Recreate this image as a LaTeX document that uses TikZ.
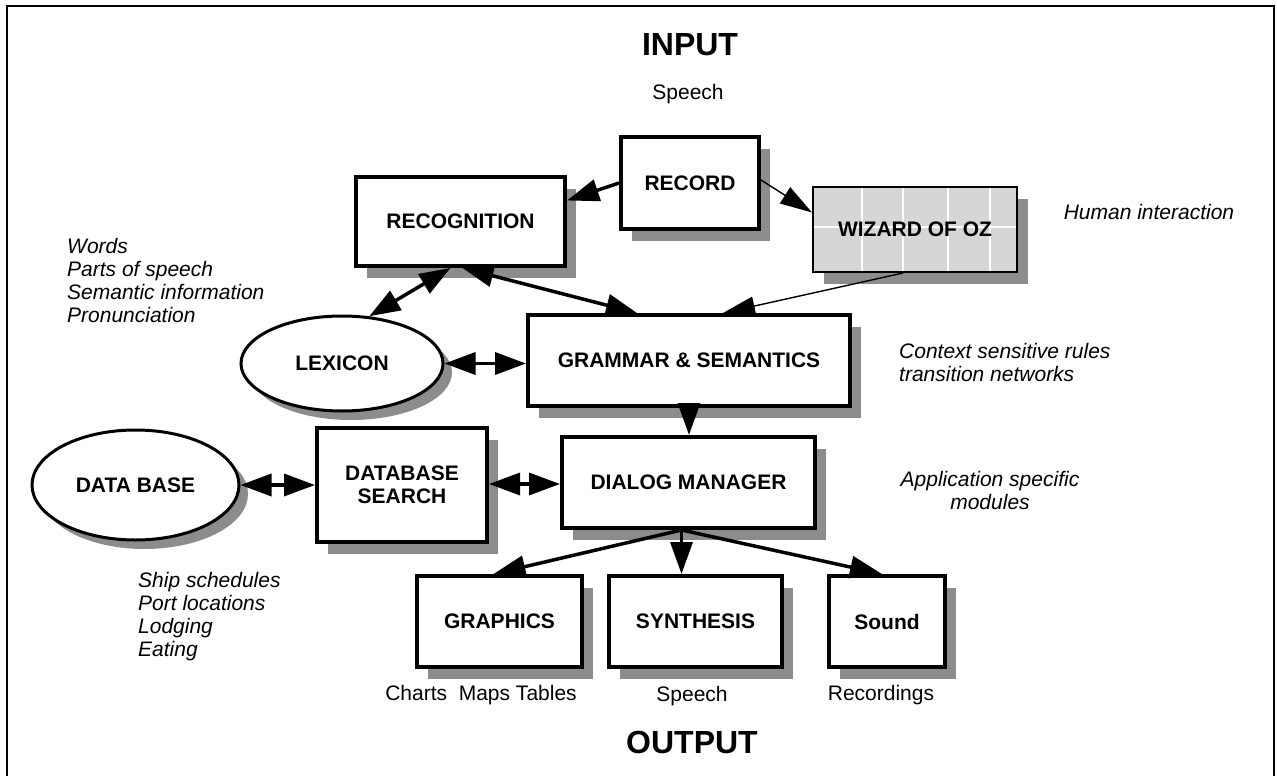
\documentclass[tikz,border=0pt]{standalone}
\usepackage{fontspec}
\setmainfont{Liberation Sans}
\usetikzlibrary{arrows.meta,shapes.geometric,shadows,calc}
\begin{document}
\begin{tikzpicture}[x=1pt,y=-1pt,
  lbl/.style={font=\fontsize{21}{23}\selectfont\bfseries, align=center},
  txt/.style={font=\fontsize{21}{23}\selectfont, align=left, inner sep=0pt},
  itxt/.style={font=\fontsize{21}{23}\selectfont\itshape, inner sep=0pt},
  bigtxt/.style={font=\fontsize{32}{36}\selectfont\bfseries, inner sep=0pt},
  boxshadow/.style={drop shadow={shadow xshift=11pt,shadow yshift=-12pt,fill=black!45,opacity=1}},
  box/.style={draw, line width=4pt, fill=white, boxshadow, lbl, inner sep=0pt},
  oval/.style={ellipse, draw, line width=3pt, fill=white,
    drop shadow={shadow xshift=9pt,shadow yshift=-9pt,fill=black!45,opacity=1}, lbl, inner sep=0pt},
  fatarrow/.style={line width=3.5pt, -{Triangle[length=32pt,width=22pt]}},
  slimarrow/.style={line width=1.4pt, -{Triangle[length=32pt,width=19pt]}},
  duoarrow/.style={line width=3.5pt, {Triangle[length=31pt,width=22pt]}-{Triangle[length=31pt,width=22pt]}}
]
\useasboundingbox (0,0) rectangle (1277,776);
% frame (open at the bottom)
\draw[line width=2.5pt] (7,800) -- (7,6) -- (1274,6) -- (1274,800);

% headings
\node[bigtxt] (input) at (690,45) {INPUT};
\node[txt] (speechin) at (688,94) {Speech};
\node[bigtxt] (output) at (692,742) {OUTPUT};

% boxes
\node[box, minimum width=138pt, minimum height=92pt] (record) at (690,183) {RECORD};
\node[box, minimum width=209pt, minimum height=89pt] (recog) at (460.5,221.5) {RECOGNITION};
\node[box, line width=2pt, fill=black!16, minimum width=204pt, minimum height=85pt,
  path picture={
    \foreach \dx in {49,90,135,177}{
      \draw[white,line width=1.2pt] ([xshift=\dx pt]path picture bounding box.north west) -- ([xshift=\dx pt]path picture bounding box.south west);}
    \draw[white,line width=1.2pt] ([yshift=-40pt]path picture bounding box.north west) -- ([yshift=-40pt]path picture bounding box.north east);
  }] (wiz) at (915,229.5) {WIZARD OF OZ};
\node[box, minimum width=322pt, minimum height=91pt] (gram) at (689,360.5) {GRAMMAR \& SEMANTICS};
\node[oval, minimum width=202pt, minimum height=95pt] (lex) at (342,363.5) {LEXICON};
\node[oval, minimum width=207pt, minimum height=110pt] (db) at (135.5,485) {DATA BASE};
\node[box, minimum width=170pt, minimum height=114pt] (dbs) at (402,485) {DATABASE\\SEARCH};
\node[box, minimum width=253pt, minimum height=91pt] (dm) at (688.5,482.5) {DIALOG MANAGER};
\node[box, minimum width=165pt, minimum height=91pt] (graph) at (499.5,621.5) {GRAPHICS};
\node[box, minimum width=173pt, minimum height=91pt] (synth) at (695.5,621.5) {SYNTHESIS};
\node[box, minimum width=116pt, minimum height=91pt] (sound) at (887,621.5) {Sound};

% annotations
\node[itxt] (human) at (1149,212) {Human interaction};
\node[itxt, align=left, anchor=west] (context) at (899,362) {Context sensitive rules\\transition networks};
\node[itxt, align=center] (appl) at (990,490) {Application specific\\modules};
\node[itxt, align=left, anchor=west] (words) at (67,280.5) {Words\\Parts of speech\\Semantic information\\Pronunciation};
\node[itxt, align=left, anchor=west] (ship) at (138,617) {Ship schedules\\Port locations\\Lodging\\Eating};
\node[txt] (charts) at (481,695) {Charts\ \ Maps Tables};
\node[txt] (speechout) at (692,696) {Speech};
\node[txt] (recs) at (881,695) {Recordings};

% connectors
\draw[fatarrow] (record.west) -- ([yshift=21pt]recog.east);
\draw[slimarrow] ([yshift=3pt]record.east) -- ([yshift=17pt]wiz.west);
\draw[slimarrow] ([xshift=-12pt]wiz.south) -- ([xshift=34pt]gram.north);
\draw[duoarrow] ([xshift=2pt]recog.south) -- ([xshift=-52pt]gram.north);
\draw[duoarrow] ([xshift=-10pt]recog.south) -- (lex.60);
\draw[duoarrow] (lex.east) -- (lex.east -| gram.west);
\draw[duoarrow] (db.east) -- (db.east -| dbs.west);
\draw[duoarrow] ([yshift=1pt]dbs.east) -- ([yshift=1pt]dbs.east -| dm.west);
\draw[fatarrow] (gram.south) -- (gram.south |- dm.north);
\coordinate (fan) at ([xshift=-7pt]dm.south);
\draw[fatarrow] (fan) -- ([xshift=-6pt]graph.north);
\draw[fatarrow] (fan) -- (fan |- synth.north);
\draw[fatarrow] (fan) -- ([xshift=-5pt]sound.north);
\end{tikzpicture}
\end{document}
